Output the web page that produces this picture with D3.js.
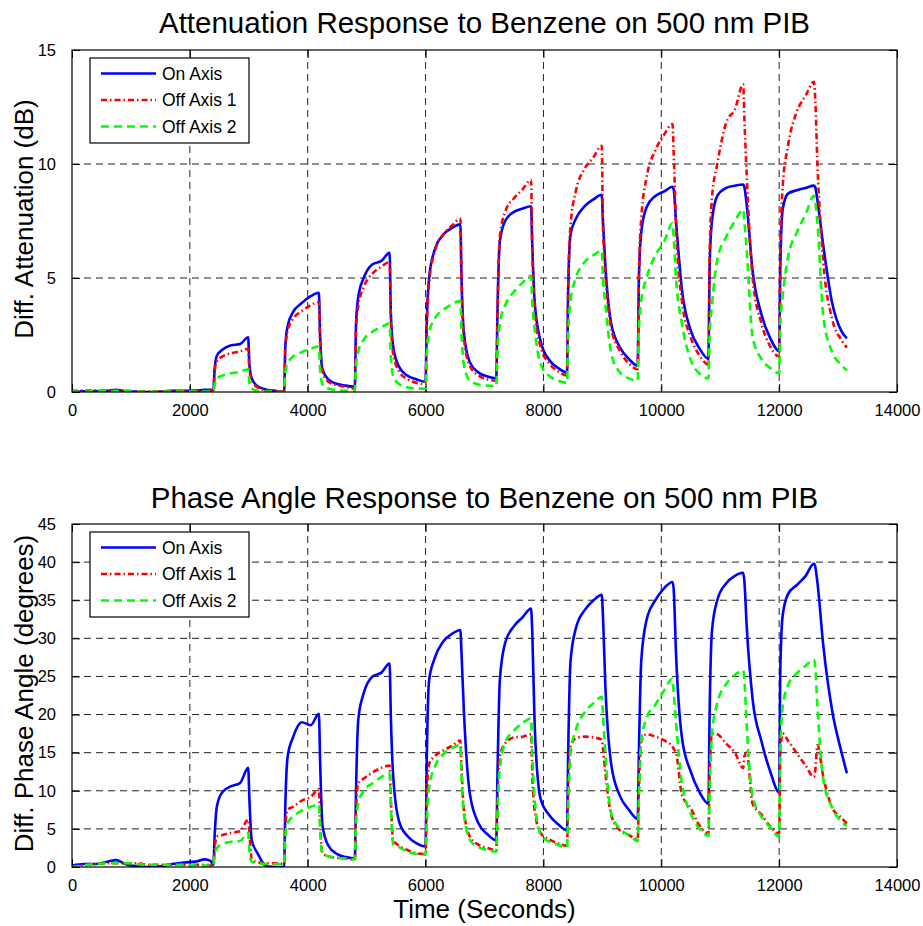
<!DOCTYPE html>
<html>
<head>
<meta charset="utf-8">
<script src="https://cdn.jsdelivr.net/npm/d3@7"></script>
<style>
  body { margin: 0; background: #fff; }
  svg { display: block; font-family: "Liberation Sans", Arial, Helvetica, sans-serif; }
</style>
</head>
<body>
<div id="chart"></div>
<script>
// time axis (seconds), shared by both panels
const timeS = [
  0, 200, 400, 600, 750, 900, 1100, 1300, 1500, 1700, 1900, 2100, 2250, 2350,
  2400, 2420, 2460, 2550, 2700, 2850, 2990, 3010, 3050, 3150, 3300, 3450,
  3600, 3620, 3660, 3750, 3900, 4050, 4190, 4210, 4250, 4350, 4500, 4650,
  4800, 4820, 4860, 4950, 5100, 5250, 5390, 5410, 5450, 5550, 5700, 5850,
  6000, 6020, 6060, 6150, 6300, 6450, 6590, 6610, 6650, 6750, 6900, 7050,
  7200, 7220, 7260, 7350, 7500, 7650, 7790, 7810, 7850, 7950, 8100, 8250,
  8400, 8420, 8460, 8550, 8700, 8850, 8990, 9010, 9050, 9150, 9300, 9450,
  9600, 9620, 9660, 9750, 9900, 10050, 10190, 10210, 10250, 10350, 10500, 10650,
  10800, 10820, 10860, 10950, 11100, 11250, 11390, 11410, 11450, 11550, 11700, 11850,
  12000, 12020, 12060, 12150, 12300, 12450, 12590, 12610, 12650, 12750, 12900, 13050, 13150
];

// attenuation (dB)
const attOnAxis = [
  0.03, 0.03, 0.04, 0.05, 0.1, 0.04, 0.02, 0.0, 0.02, 0.05, 0.05, 0.06, 0.1, 0.1,
  0.08, 1.0, 1.6, 1.85, 2.05, 2.1, 2.4, 1.2, 0.6, 0.25, 0.1, 0.05,
  0.02, 2.0, 2.9, 3.5, 3.9, 4.2, 4.35, 2.5, 1.0, 0.55, 0.35, 0.28,
  0.22, 3.0, 4.2, 5.0, 5.6, 5.75, 6.1, 3.5, 2.0, 1.1, 0.7, 0.55,
  0.45, 3.0, 5.0, 6.2, 6.9, 7.2, 7.35, 5.0, 2.6, 1.3, 0.85, 0.68,
  0.6, 3.5, 6.6, 7.5, 7.9, 8.05, 8.15, 6.5, 4.0, 2.25, 1.4, 1.05,
  0.85, 4.5, 6.9, 7.6, 8.15, 8.45, 8.65, 7.5, 5.6, 3.0, 1.95, 1.45,
  1.15, 5.0, 7.0, 8.1, 8.6, 8.8, 9.0, 8.9, 7.5, 4.5, 2.7, 1.9,
  1.45, 5.5, 7.5, 8.6, 8.95, 9.05, 9.1, 9.0, 8.2, 5.3, 3.4, 2.35,
  1.8, 5.5, 8.0, 8.7, 8.85, 8.95, 9.05, 9.0, 8.4, 6.4, 3.9, 2.7, 2.35
];
const attOffAxis1 = [
  0.05, 0.06, 0.06, 0.05, 0.06, 0.05, 0.04, 0.02, 0.03, 0.04, 0.04, 0.04, 0.05, 0.05,
  0.05, 0.9, 1.35, 1.55, 1.7, 1.78, 1.9, 1.0, 0.5, 0.2, 0.08, 0.04,
  0.02, 1.9, 2.7, 3.2, 3.55, 3.8, 3.95, 2.2, 0.9, 0.45, 0.3, 0.22,
  0.15, 2.8, 3.8, 4.6, 5.2, 5.5, 5.7, 3.2, 1.7, 0.9, 0.55, 0.4,
  0.35, 2.8, 4.8, 6.1, 6.9, 7.3, 7.6, 4.8, 2.4, 1.15, 0.72, 0.55,
  0.5, 3.4, 6.8, 7.9, 8.5, 8.9, 9.3, 6.3, 3.7, 2.0, 1.25, 0.9,
  0.72, 4.5, 7.3, 8.8, 9.8, 10.3, 10.8, 7.2, 5.3, 2.8, 1.8, 1.25,
  1.0, 5.0, 7.6, 9.4, 10.6, 11.3, 11.75, 10.5, 7.3, 4.0, 2.4, 1.6,
  1.2, 6.0, 8.5, 10.0, 11.8, 12.4, 13.5, 12.0, 9.5, 5.0, 3.0, 2.0,
  1.55, 6.0, 9.0, 10.8, 12.3, 13.0, 13.6, 13.0, 10.0, 5.7, 3.2, 2.3, 1.95
];
const attOffAxis2 = [
  0.02, 0.02, 0.03, 0.03, 0.04, 0.03, 0.02, 0.01, 0.02, 0.02, 0.02, 0.02, 0.02, 0.02,
  0.02, 0.3, 0.6, 0.72, 0.82, 0.88, 1.0, 0.4, 0.15, 0.05, 0.02, 0.02,
  0.0, 0.9, 1.25, 1.55, 1.75, 1.9, 2.0, 1.0, 0.35, 0.15, 0.08, 0.05,
  0.05, 1.2, 1.8, 2.3, 2.65, 2.85, 3.0, 1.6, 0.7, 0.35, 0.2, 0.15,
  0.15, 1.6, 2.6, 3.2, 3.6, 3.85, 4.0, 2.6, 1.2, 0.5, 0.33, 0.28,
  0.25, 1.8, 3.0, 3.8, 4.4, 4.8, 5.1, 4.0, 2.8, 1.25, 0.7, 0.5,
  0.4, 2.5, 4.0, 5.0, 5.7, 6.0, 6.2, 5.0, 3.9, 1.7, 0.85, 0.6,
  0.5, 2.8, 4.0, 5.0, 6.0, 6.6, 7.4, 6.8, 5.0, 3.0, 1.4, 0.8,
  0.6, 2.5, 3.8, 5.8, 6.8, 7.5, 8.0, 7.5, 6.2, 2.4, 1.45, 1.05,
  0.82, 3.0, 4.2, 5.9, 7.0, 7.8, 8.6, 8.4, 7.4, 3.3, 1.75, 1.2, 0.95
];

// phase angle (degrees)
const phaseOnAxis = [
  0.2, 0.4, 0.4, 0.7, 0.9, 0.4, 0.1, 0.0, 0.1, 0.4, 0.6, 0.7, 1.0, 0.8,
  0.3, 4.0, 8.0, 9.8, 10.6, 11.0, 13.0, 9.0, 3.5, 1.8, 0.1, 0.0,
  0.0, 8.0, 14.5, 17.0, 19.0, 18.6, 20.1, 14.0, 5.5, 2.8, 1.7, 1.3,
  1.1, 10.0, 19.5, 22.8, 25.0, 25.5, 26.7, 20.0, 12.0, 6.0, 4.0, 3.1,
  2.7, 14.0, 24.5, 27.3, 29.6, 30.6, 31.1, 28.0, 20.5, 9.7, 5.7, 4.3,
  3.5, 12.0, 24.5, 29.4, 31.6, 32.8, 33.9, 31.0, 19.0, 9.0, 6.8, 5.6,
  4.8, 15.0, 27.0, 31.3, 33.7, 35.0, 35.7, 33.0, 24.0, 13.5, 9.3, 7.5,
  6.3, 15.0, 27.0, 32.4, 35.0, 36.6, 37.4, 36.5, 28.0, 17.0, 12.5, 9.8,
  8.3, 20.0, 31.0, 35.0, 37.2, 38.2, 38.6, 37.5, 31.5, 22.0, 16.5, 12.5,
  9.8, 26.0, 33.0, 35.8, 37.0, 38.2, 39.8, 39.5, 37.3, 29.0, 20.5, 15.3, 12.3
];
const phaseOffAxis1 = [
  0.0, 0.3, 0.4, 0.5, 0.5, 0.5, 0.5, 0.3, 0.3, 0.3, 0.3, 0.3, 0.3, 0.2,
  0.2, 2.5, 4.0, 4.2, 4.5, 4.7, 6.2, 4.5, 1.0, 0.6, 0.5, 0.5,
  0.4, 5.5, 7.5, 7.9, 8.7, 9.2, 10.2, 6.0, 1.8, 1.4, 1.2, 1.1,
  1.0, 8.0, 11.0, 11.6, 12.4, 13.0, 13.3, 9.0, 3.5, 2.8, 2.2, 1.8,
  1.7, 9.0, 13.5, 14.5, 15.3, 15.9, 16.6, 13.0, 7.5, 4.0, 2.9, 2.5,
  2.2, 8.0, 14.5, 16.2, 17.0, 17.1, 17.4, 12.5, 7.5, 4.5, 3.6, 3.1,
  2.8, 10.0, 15.8, 16.9, 17.1, 17.0, 16.7, 15.5, 12.5, 6.8, 4.8, 4.2,
  3.6, 10.0, 16.5, 17.4, 17.1, 16.6, 15.8, 15.5, 15.0, 9.5, 7.7, 5.4,
  4.4, 12.0, 17.5, 17.4, 16.2, 15.0, 13.0, 14.5, 15.0, 8.3, 6.9, 5.3,
  4.4, 15.0, 17.5, 16.6, 14.9, 13.3, 11.8, 12.5, 16.0, 11.8, 7.8, 6.5, 5.7
];
const phaseOffAxis2 = [
  0.0, 0.2, 0.4, 0.5, 0.5, 0.5, 0.4, 0.3, 0.3, 0.3, 0.3, 0.2, 0.2, 0.2,
  0.2, 1.5, 2.5, 3.0, 3.3, 3.4, 4.5, 2.0, 0.7, 0.5, 0.4, 0.4,
  0.4, 4.0, 5.8, 6.6, 7.4, 7.9, 8.2, 5.0, 1.8, 1.4, 1.2, 1.1,
  1.0, 6.0, 8.5, 10.0, 11.0, 11.8, 12.3, 8.0, 3.0, 2.6, 2.0, 1.7,
  1.6, 6.0, 10.5, 13.0, 14.8, 15.6, 16.0, 12.0, 7.0, 3.6, 2.6, 2.2,
  2.0, 7.0, 13.0, 16.3, 17.9, 18.9, 19.5, 15.0, 9.0, 4.3, 3.3, 2.9,
  2.6, 8.0, 14.9, 18.0, 20.3, 21.5, 22.3, 20.0, 14.9, 7.0, 5.0, 4.2,
  3.4, 9.0, 16.5, 19.5, 21.3, 23.2, 24.7, 23.0, 19.0, 11.0, 7.0, 5.0,
  4.1, 10.0, 17.5, 21.5, 24.0, 25.2, 25.8, 24.5, 18.5, 9.3, 6.6, 5.2,
  4.0, 15.0, 21.0, 23.8, 25.4, 26.4, 27.2, 26.5, 21.0, 11.5, 7.8, 6.0, 5.4
];

const seriesNames = ["On Axis", "Off Axis 1", "Off Axis 2"];
const xTickValues = [0, 2000, 4000, 6000, 8000, 10000, 12000, 14000];
const attTickValues = [0, 5, 10, 15];
const phaseTickValues = [0, 5, 10, 15, 20, 25, 30, 35, 40, 45];

const lineStyles = [
  { color: "#0000ff", dash: null },
  { color: "#ff0000", dash: "6,3,1.5,3" },
  { color: "#00ff00", dash: "8,5" }
];

const width = 923, height = 926;
const svg = d3.select("#chart").append("svg")
  .attr("width", width).attr("height", height);
svg.append("rect").attr("width", width).attr("height", height).attr("fill", "#fff");

const x0 = 72, x1 = 897;

function drawPanel(opts) {
  const x = d3.scaleLinear().domain([0, 14000]).range([x0, x1]);
  const y = d3.scaleLinear().domain(opts.yDomain).range([opts.bottom, opts.top]);
  const g = svg.append("g");

  // title
  g.append("text")
    .attr("x", (x0 + x1) / 2).attr("y", opts.titleY)
    .attr("text-anchor", "middle")
    .attr("font-size", 29.5)
    .text(opts.title);

  // grid
  const gridX = xTickValues.filter(d => d > 0 && d < 14000);
  const gridY = opts.yTicks.filter(d => d > opts.yDomain[0] && d < opts.yDomain[1]);
  g.selectAll(null).data(gridX).enter().append("line")
    .attr("x1", d => x(d)).attr("x2", d => x(d))
    .attr("y1", opts.top).attr("y2", opts.bottom)
    .attr("stroke", "#222").attr("stroke-width", 1)
    .attr("stroke-dasharray", "7,5");
  g.selectAll(null).data(gridY).enter().append("line")
    .attr("x1", x0).attr("x2", x1)
    .attr("y1", d => y(d)).attr("y2", d => y(d))
    .attr("stroke", "#222").attr("stroke-width", 1)
    .attr("stroke-dasharray", "7,5");

  // axes (inward ticks on all four sides, like matlab)
  const tk = 8;
  g.append("g").attr("transform", `translate(0,${opts.bottom})`)
    .call(d3.axisBottom(x).tickValues(xTickValues).tickSizeInner(-tk).tickSizeOuter(0).tickPadding(12).tickFormat(d3.format("d")));
  g.append("g").attr("transform", `translate(0,${opts.top})`)
    .call(d3.axisTop(x).tickValues(xTickValues).tickSizeInner(-tk).tickSizeOuter(0).tickFormat(""));
  g.append("g").attr("transform", `translate(${x0},0)`)
    .call(d3.axisLeft(y).tickValues(opts.yTicks).tickSizeInner(-tk).tickSizeOuter(0).tickPadding(16).tickFormat(d3.format("d")));
  g.append("g").attr("transform", `translate(${x1},0)`)
    .call(d3.axisRight(y).tickValues(opts.yTicks).tickSizeInner(-tk).tickSizeOuter(0).tickFormat(""));
  g.selectAll(".domain").remove();
  g.selectAll(".tick line").attr("stroke", "#000");
  g.selectAll(".tick text")
    .attr("font-size", 16.5)
    .attr("font-family", "'Liberation Sans', Arial, sans-serif")
    .attr("fill", "#000");

  // data lines
  const clipId = "clip" + opts.top;
  svg.append("clipPath").attr("id", clipId).append("rect")
    .attr("x", x0).attr("y", opts.top).attr("width", x1 - x0).attr("height", opts.bottom - opts.top);
  const line = d3.line().curve(d3.curveMonotoneX).x(d => x(d[0])).y(d => y(d[1]));
  opts.series.forEach((vals, i) => {
    const pts = timeS.map((t, j) => [t, vals[j]]);
    g.append("path")
      .attr("clip-path", `url(#${clipId})`)
      .attr("d", line(pts))
      .attr("fill", "none")
      .attr("stroke", lineStyles[i].color)
      .attr("stroke-width", 2.6)
      .attr("stroke-linejoin", "round")
      .attr("stroke-dasharray", lineStyles[i].dash);
  });

  // box
  g.append("rect")
    .attr("x", x0).attr("y", opts.top)
    .attr("width", x1 - x0).attr("height", opts.bottom - opts.top)
    .attr("fill", "none").attr("stroke", "#000").attr("stroke-width", 1.2);

  // y label
  g.append("text")
    .attr("transform", `translate(33,${(opts.top + opts.bottom) / 2 - 2}) rotate(-90)`)
    .attr("text-anchor", "middle")
    .attr("font-size", 26)
    .text(opts.yLabel);

  // legend
  const lg = g.append("g").attr("transform", `translate(90,${opts.top + 8})`);
  lg.append("rect").attr("width", 159).attr("height", 85)
    .attr("fill", "#fff").attr("stroke", "#000").attr("stroke-width", 1.2);
  seriesNames.forEach((name, i) => {
    const yy = 15.5 + i * 26.5;
    lg.append("line")
      .attr("x1", 11).attr("x2", 66).attr("y1", yy).attr("y2", yy)
      .attr("stroke", lineStyles[i].color).attr("stroke-width", 2.6)
      .attr("stroke-dasharray", lineStyles[i].dash);
    lg.append("text")
      .attr("x", 72).attr("y", yy).attr("dy", "0.35em")
      .attr("font-size", 17.5)
      .text(name);
  });
}

drawPanel({
  top: 50, bottom: 392, titleY: 33,
  title: "Attenuation Response to Benzene on 500 nm PIB",
  yDomain: [0, 15], yTicks: attTickValues,
  yLabel: "Diff. Attenuation (dB)",
  series: [attOnAxis, attOffAxis1, attOffAxis2]
});

drawPanel({
  top: 524, bottom: 867, titleY: 508,
  title: "Phase Angle Response to Benzene on 500 nm PIB",
  yDomain: [0, 45], yTicks: phaseTickValues,
  yLabel: "Diff. Phase Angle (degrees)",
  series: [phaseOnAxis, phaseOffAxis1, phaseOffAxis2]
});

svg.append("text")
  .attr("x", (x0 + x1) / 2).attr("y", 918)
  .attr("text-anchor", "middle")
  .attr("font-size", 26)
  .text("Time (Seconds)");
</script>
</body>
</html>
